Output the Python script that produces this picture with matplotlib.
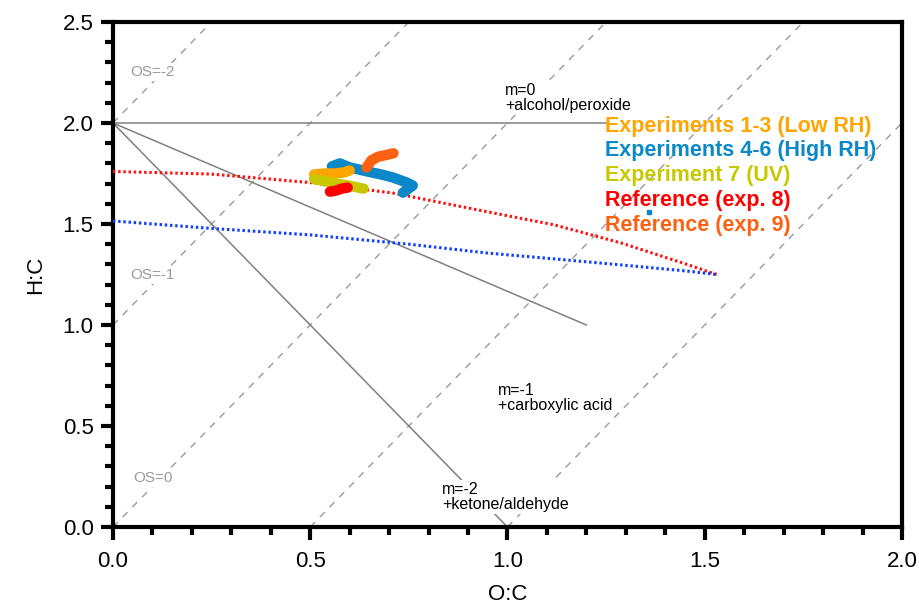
# Van Krevelen (H:C vs O:C) diagram
import matplotlib
matplotlib.use("Agg")
import matplotlib.pyplot as plt
from matplotlib.ticker import MultipleLocator

plt.rcParams['font.family'] = ['Liberation Sans', 'DejaVu Sans']

# reference curves (dotted)
oc_red_curve = [0.0, 0.25, 0.5, 0.71, 0.95, 1.12, 1.29, 1.455, 1.53]
hc_red_curve = [1.76, 1.747, 1.705, 1.653, 1.56, 1.495, 1.405, 1.30, 1.25]
oc_blue_curve = [0.0, 0.25, 0.5, 0.75, 0.95, 1.12, 1.29, 1.455, 1.53]
hc_blue_curve = [1.515, 1.478, 1.446, 1.40, 1.356, 1.327, 1.297, 1.267, 1.25]

# measured trajectories
oc_low_rh = [0.51, 0.535, 0.56, 0.585, 0.60]
hc_low_rh = [1.745, 1.75, 1.75, 1.755, 1.765]
oc_high_rh = [0.555, 0.575, 0.60, 0.64, 0.68, 0.71, 0.745, 0.76, 0.735]
hc_high_rh = [1.785, 1.80, 1.78, 1.762, 1.745, 1.73, 1.705, 1.69, 1.655]
oc_high_rh_extra = [1.36]
hc_high_rh_extra = [1.56]
oc_uv = [0.51, 0.535, 0.56, 0.585, 0.61, 0.635]
hc_uv = [1.722, 1.712, 1.703, 1.694, 1.685, 1.675]
oc_ref8 = [0.55, 0.565, 0.58, 0.595]
hc_ref8 = [1.66, 1.665, 1.675, 1.68]
oc_ref9 = [0.643, 0.655, 0.672, 0.694, 0.711]
hc_ref9 = [1.78, 1.815, 1.833, 1.842, 1.85]

legend_labels = ["Experiments 1-3 (Low RH)", "Experiments 4-6 (High RH)",
                 "Experiment 7 (UV)", "Reference (exp. 8)", "Reference (exp. 9)"]
legend_colors = ["#FFA500", "#0A88C8", "#C8C800", "#FF0000", "#FF6010"]

# oxidation state lines  OS = 2*O:C - H:C
os_values = [-2, -1, 0, 1, 2]
# slope lines m=0, m=-1, m=-2 from (0, 2)
slope_end_oc = [1.25, 1.2, 1.0]
slope_end_hc = [2.0, 1.0, 0.0]

C_GRAY = "#808080"
C_DASH = "#9A9A9A"

fig = plt.figure(figsize=(9.2, 6.07), dpi=100)
ax = fig.add_axes([0.1228, 0.1318, 0.8576, 0.832])
ax.set_xlim(0, 2)
ax.set_ylim(0, 2.5)

for os_ in os_values:
    x0 = max(0.0, os_ / 2.0)
    x1 = min(2.0, (2.5 + os_) / 2.0)
    ax.plot([x0, x1], [2 * x0 - os_, 2 * x1 - os_], color=C_DASH, lw=1,
            ls=(0, (5, 5)), zorder=1)

for xe, ye in zip(slope_end_oc, slope_end_hc):
    ax.plot([0, xe], [2.0, ye], color=C_GRAY, lw=1.1, zorder=1)

# text labels with white boxes (hide lines beneath)
box = dict(facecolor="white", edgecolor="none", pad=1.5)
for txt, y in [("OS=-2", 2.252), ("OS=-1", 1.248), ("OS=0", 0.243)]:
    ax.text(0.101, y, txt, color="#999999", fontsize=11, ha="center",
            va="center", bbox=box, zorder=2)
ax.text(0.994, 2.124, "m=0\n+alcohol/peroxide", fontsize=11.5, ha="left",
        va="center", linespacing=1.05, bbox=box, zorder=2)
ax.text(0.976, 0.639, "m=-1\n+carboxylic acid", fontsize=11.5, ha="left",
        va="center", linespacing=1.05, bbox=box, zorder=2)
ax.text(0.834, 0.149, "m=-2\n+ketone/aldehyde", fontsize=11.5, ha="left",
        va="center", linespacing=1.05, bbox=box, zorder=2)

ax.plot(oc_red_curve, hc_red_curve, color="#FF1010", lw=2.2,
        ls=(0, (0.8, 0.9)), zorder=3)
ax.plot(oc_blue_curve, hc_blue_curve, color="#1040FF", lw=2.2,
        ls=(0, (0.8, 0.9)), zorder=3)

kw = dict(lw=7.5, solid_capstyle="round", solid_joinstyle="round", zorder=4)
ax.plot(oc_high_rh, hc_high_rh, color=legend_colors[1], **kw)
ax.plot(oc_high_rh_extra, hc_high_rh_extra, "s", color=legend_colors[1],
        ms=2.5, zorder=4)
ax.plot(oc_low_rh, hc_low_rh, color=legend_colors[0], **kw)
ax.plot(oc_uv, hc_uv, color=legend_colors[2], **kw)
ax.plot(oc_ref8, hc_ref8, color=legend_colors[3], **kw)
ax.plot(oc_ref9, hc_ref9, color=legend_colors[4], **kw)

for i, (lab, col) in enumerate(zip(legend_labels, legend_colors)):
    ax.text(1.247, 1.985 - i * 0.1235, lab, color=col, fontsize=15.5,
            fontweight="bold", ha="left", va="center", zorder=5)

# axes styling
for sp in ax.spines.values():
    sp.set_linewidth(3)
ax.xaxis.set_major_locator(MultipleLocator(0.5))
ax.xaxis.set_minor_locator(MultipleLocator(0.1))
ax.yaxis.set_major_locator(MultipleLocator(0.5))
ax.yaxis.set_minor_locator(MultipleLocator(0.1))
ax.xaxis.set_major_formatter(plt.FormatStrFormatter("%.1f"))
ax.yaxis.set_major_formatter(plt.FormatStrFormatter("%.1f"))
ax.tick_params(which="major", direction="out", length=9, width=3,
               labelsize=16)
ax.tick_params(which="minor", direction="out", length=5.5, width=3)
ax.tick_params(axis="x", which="major", pad=8)
ax.tick_params(axis="y", which="major", pad=5)
ax.set_xlabel("O:C", fontsize=16, labelpad=9)
ax.set_ylabel("H:C", fontsize=16, labelpad=12)

fig.savefig("out.png", dpi=100, facecolor="white")
